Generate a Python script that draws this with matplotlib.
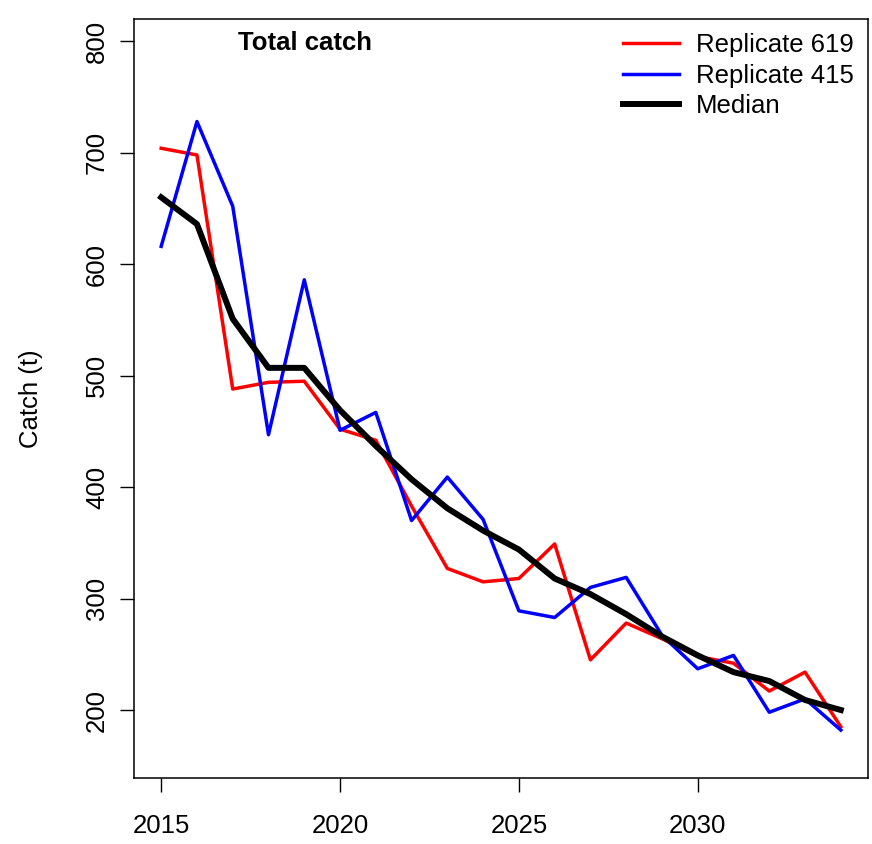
import matplotlib
matplotlib.use("Agg")
import matplotlib.pyplot as plt

years = list(range(2015, 2035))
rep619 = [704, 698, 488, 494, 495, 452, 442, 383, 327, 315, 318, 349, 245, 278, 264, 248, 242, 217, 234, 185]
rep415 = [616, 728, 652, 447, 586, 451, 467, 370, 409, 371, 289, 283, 310, 319, 267, 237, 249, 198, 210, 182]
median = [660, 636, 551, 507, 507, 469, 437, 407, 381, 361, 344, 318, 304, 286, 266, 249, 234, 226, 209, 200]
xticks = [2015, 2020, 2025, 2030]
yticks = [200, 300, 400, 500, 600, 700, 800]

plt.rcParams['font.family'] = ['Liberation Sans', 'DejaVu Sans']
fig = plt.figure(figsize=(8.72, 8.44), dpi=100)
ax = fig.add_axes([134/872, 1-778/844, (868-134)/872, (778-19)/844])

ax.plot(years, rep619, color='#FF0000', lw=2.5, label='Replicate 619')
ax.plot(years, rep415, color='#0000FF', lw=2.5, label='Replicate 415')
ax.plot(years, median, color='black', lw=4.3, label='Median')

ax.set_xlim(2014.24, 2034.76)
ax.set_ylim(139, 820)
ax.set_xticks(xticks)
ax.set_yticks(yticks)
ax.tick_params(axis='both', length=10, width=1, labelsize=18.5, direction='out')
ax.tick_params(axis='x', pad=16)
ax.tick_params(axis='y', pad=8)
for lab in ax.get_yticklabels():
    lab.set_rotation(90)
    lab.set_va('center')
for s in ax.spines.values():
    s.set_linewidth(1.1)

ax.set_ylabel('Catch (t)', fontsize=18.5, labelpad=30)
ax.text(0.233, 0.969, 'Total catch', transform=ax.transAxes, fontsize=18.5,
        fontweight='bold', ha='center', va='center')

ax.legend(loc='upper right', frameon=False, fontsize=18.5, handlelength=2.2,
          handletextpad=0.65, labelspacing=0.25, borderaxespad=0.15,
          bbox_to_anchor=(1.0, 1.0))

fig.savefig('out.png', dpi=100)
